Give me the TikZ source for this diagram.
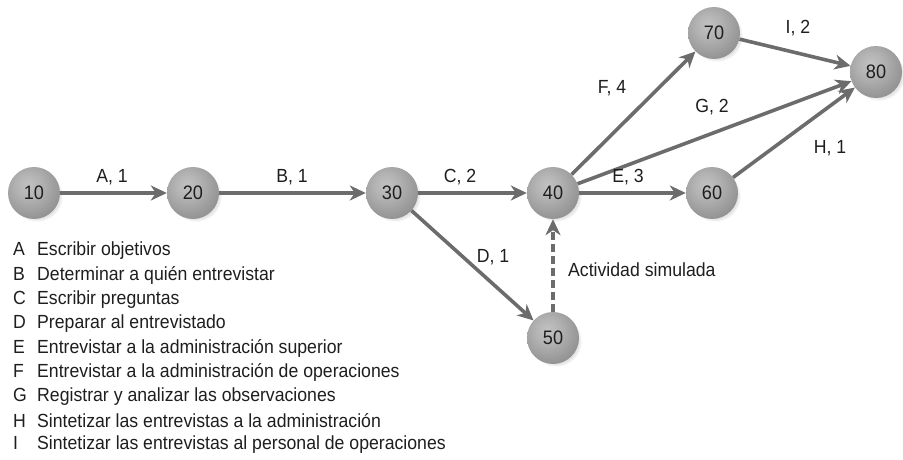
\documentclass[tikz,border=0pt]{standalone}
\usepackage{fontspec}
\setmainfont{Liberation Sans}[FakeStretch=0.93]
\usetikzlibrary{arrows.meta,shadows}
\definecolor{arrgray}{HTML}{6C6C6C}
\definecolor{txtgray}{HTML}{1E1E1E}
\pgfdeclareradialshading{sphere}{\pgfpoint{-6bp}{8bp}}{%
  color(0bp)=(black!24); color(12bp)=(black!30); color(30bp)=(black!42);
  color(46bp)=(black!55); color(58bp)=(black!62); color(100bp)=(black!62)}
\tikzset{
  evt/.style={circle, minimum size=52pt, inner sep=0pt, shading=sphere,
    font=\fontsize{19.5}{22}\selectfont, text=txtgray,
    circular drop shadow={shadow xshift=3pt, shadow yshift=-3pt, fill=gray!40, opacity=0.55, shadow scale=1.0}},
  lbl/.style={font=\fontsize{19}{22}\selectfont, text=txtgray, inner sep=0pt},
  legend/.style={font=\fontsize{19}{22}\selectfont, text=txtgray, inner sep=0pt, anchor=west},
  arr/.style={draw=arrgray, line width=3.6pt, -{Stealth[length=16pt,width=15pt,inset=5pt]}},
  dummyarr/.style={arr, dash pattern=on 8pt off 4pt},
}
\begin{document}
\begin{tikzpicture}[x=1pt,y=-1pt]
\useasboundingbox (0,0) rectangle (903,460);
% events
\node[evt] (n10) at (34,193) {10};
\node[evt] (n20) at (193,193) {20};
\node[evt] (n30) at (392,193) {30};
\node[evt] (n40) at (553,193) {40};
\node[evt] (n50) at (553,338) {50};
\node[evt] (n60) at (712,193) {60};
\node[evt] (n70) at (714,33) {70};
\node[evt] (n80) at (876,72) {80};
% arrows
\draw[arr] (n10) -- (n20);
\draw[arr] (n20) -- (n30);
\draw[arr] (n30) -- (n40);
\draw[arr] (n30) -- (n50);
\draw[dummyarr] (n50) -- (n40);
\draw[arr] (n40) -- (n60);
\draw[arr] (n40) -- (n70);
\draw[arr] (n40) -- (n80);
\draw[arr] (n60) -- (n80);
\draw[arr] (n70) -- (n80);
% labels
\node[lbl] (lA) at (112,177) {A, 1};
\node[lbl] (lB) at (292,177) {B, 1};
\node[lbl] (lC) at (460,177) {C, 2};
\node[lbl] (lD) at (493,257) {D, 1};
\node[lbl] (lE) at (628,177) {E, 3};
\node[lbl] (lF) at (612,88) {F, 4};
\node[lbl] (lG) at (712,107) {G, 2};
\node[lbl] (lH) at (830,148) {H, 1};
\node[lbl] (lI) at (798,28) {I, 2};
\node[legend] (lsim) at (568,270) {Actividad simulada};
% legend
\foreach \k/\t [count=\i from 0] in {A/Escribir objetivos,B/Determinar a quién entrevistar,C/Escribir preguntas,D/Preparar al entrevistado,E/Entrevistar a la administración superior,F/Entrevistar a la administración de operaciones,G/Registrar y analizar las observaciones,H/Sintetizar las entrevistas a la administración,I/Sintetizar las entrevistas al personal de operaciones}{
  \node[legend] (t\k) at (13,251+24.25*\i) {\makebox[24pt][l]{\k}\t};
}
\end{tikzpicture}
\end{document}
